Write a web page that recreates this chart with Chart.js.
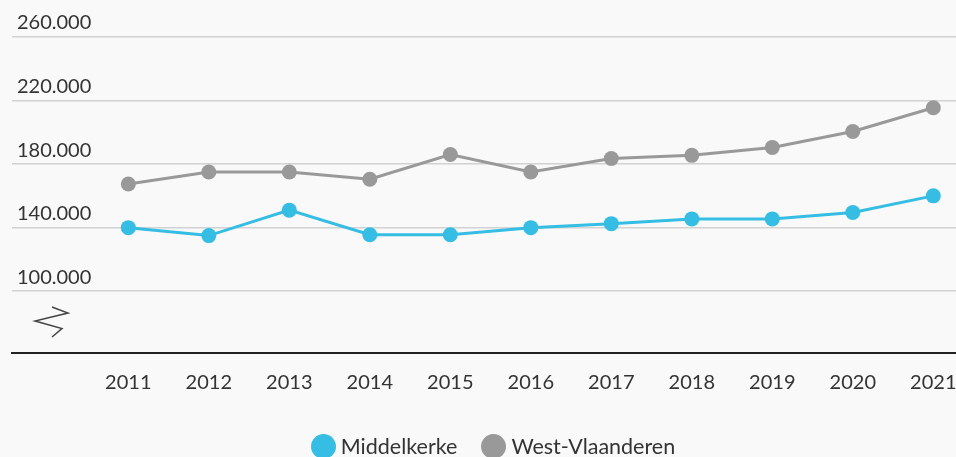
<!DOCTYPE html>
<html>
<head>
<meta charset="utf-8">
<script src="https://cdn.jsdelivr.net/npm/chart.js@4"></script>
<style>
  html, body { margin: 0; padding: 0; background: #f9f9f9; }
  #wrap { position: relative; width: 956px; height: 457px; overflow: hidden; }
  #chart { display: block; }
  #legend {
    position: absolute; left: 30px; right: 0; top: 433px; height: 26px;
    display: flex; justify-content: center; align-items: center;
    font-family: Lato, "Open Sans", sans-serif; font-size: 21.5px; color: #333;
  }
  .item { display: flex; align-items: center; margin: 0 12px; }
  .dot { width: 25px; height: 25px; border-radius: 50%; margin-right: 5px; }
</style>
</head>
<body>
<div id="wrap">
  <canvas id="chart" width="956" height="457"></canvas>
  <div id="legend"></div>
</div>
<script>
// Yearly values per region
const years = [2011, 2012, 2013, 2014, 2015, 2016, 2017, 2018, 2019, 2020, 2021];
const middelkerke = [140000, 135000, 151000, 135500, 135500, 140000, 142500, 145500, 145500, 149500, 160000];
const westVlaanderen = [167500, 175000, 175000, 170500, 186000, 175000, 183500, 185500, 190500, 200500, 215500];
const yTicks = [100000, 140000, 180000, 220000, 260000];
const seriesNames = ['Middelkerke', 'West-Vlaanderen'];
const seriesColors = ['#35bde3', '#999999'];

const fmt = v => v.toLocaleString('nl-BE').replace(/\u202f|\s/g, '.');

// Small zigzag marking the broken value axis
const axisBreak = {
  id: 'axisBreak',
  afterDraw(chart) {
    const ctx = chart.ctx;
    ctx.save();
    ctx.strokeStyle = '#444';
    ctx.lineWidth = 1.5;
    ctx.beginPath();
    ctx.moveTo(52, 307);
    ctx.lineTo(68, 313);
    ctx.lineTo(35, 321);
    ctx.lineTo(62, 328.5);
    ctx.lineTo(52, 337);
    ctx.stroke();
    ctx.restore();
  }
};

const toPoints = arr => arr.map((v, i) => ({ x: years[i], y: v }));

const chart = new Chart(document.getElementById('chart'), {
  type: 'line',
  data: {
    datasets: [middelkerke, westVlaanderen].map((arr, i) => ({
      label: seriesNames[i],
      data: toPoints(arr),
      borderColor: seriesColors[i],
      backgroundColor: seriesColors[i],
      borderWidth: 3,
      pointRadius: 7.5,
      pointBorderWidth: 0,
      pointHoverRadius: 7.5,
      tension: 0
    }))
  },
  options: {
    responsive: false,
    animation: false,
    layout: { autoPadding: false, padding: { left: 2, right: 0, top: 37, bottom: 44 } },
    plugins: {
      legend: { display: false },
      tooltip: { enabled: false }
    },
    scales: {
      x: {
        type: 'linear',
        min: 2009.555,
        max: 2021.282,
        afterBuildTicks: s => { s.ticks = years.map(v => ({ value: v })); },
        afterFit: s => { s.paddingLeft = 0; s.paddingRight = 0; },
        grid: { display: false, drawTicks: false },
        border: { display: true, color: '#222', width: 2 },
        ticks: {
          padding: 18,
          color: '#333',
          font: { family: 'Lato', size: 20 },
          callback: v => String(v),
          maxRotation: 0,
          autoSkip: false
        }
      },
      y: {
        min: 61100,
        max: 260000,
        afterBuildTicks: s => { s.ticks = yTicks.map(v => ({ value: v })); },
        afterFit: s => { s.paddingTop = 0; s.paddingBottom = 0; },
        grid: { color: '#d2d2d2', lineWidth: 1.5, drawTicks: false },
        border: { display: false },
        ticks: {
          mirror: true,
          padding: 5,
          labelOffset: -14,
          color: '#333',
          font: { family: 'Lato', size: 20 },
          callback: v => fmt(v)
        }
      }
    }
  },
  plugins: [axisBreak]
});

// Legend built from the datasets
const legend = document.getElementById('legend');
chart.data.datasets.forEach(ds => {
  const item = document.createElement('div');
  item.className = 'item';
  const dot = document.createElement('span');
  dot.className = 'dot';
  dot.style.background = ds.backgroundColor;
  const txt = document.createElement('span');
  txt.textContent = ds.label;
  item.appendChild(dot);
  item.appendChild(txt);
  legend.appendChild(item);
});
</script>
</body>
</html>
